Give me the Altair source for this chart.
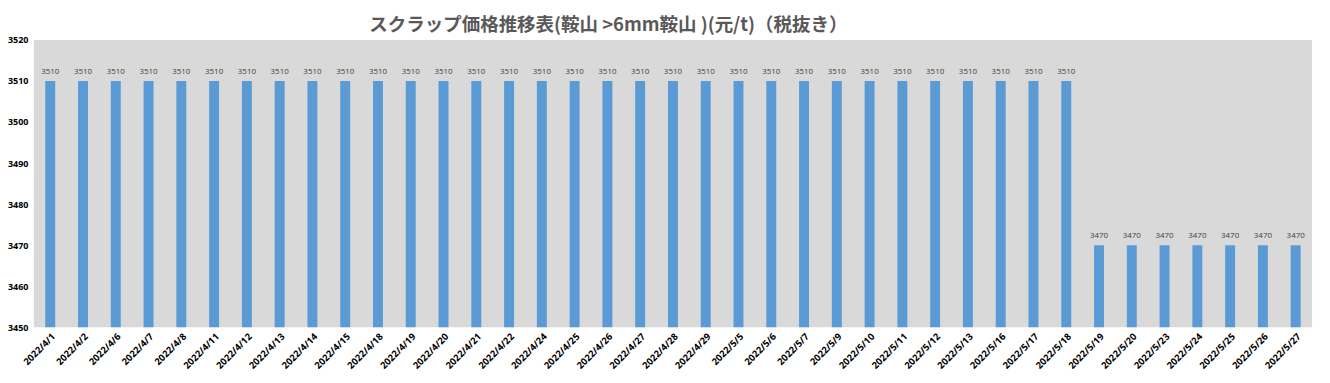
import altair as alt
import pandas as pd

dates = ["2022/4/1", "2022/4/2", "2022/4/6", "2022/4/7", "2022/4/8", "2022/4/11", "2022/4/12",
         "2022/4/13", "2022/4/14", "2022/4/15", "2022/4/18", "2022/4/19", "2022/4/20", "2022/4/21",
         "2022/4/22", "2022/4/24", "2022/4/25", "2022/4/26", "2022/4/27", "2022/4/28", "2022/4/29",
         "2022/5/5", "2022/5/6", "2022/5/7", "2022/5/9", "2022/5/10", "2022/5/11", "2022/5/12",
         "2022/5/13", "2022/5/16", "2022/5/17", "2022/5/18", "2022/5/19", "2022/5/20", "2022/5/23",
         "2022/5/24", "2022/5/25", "2022/5/26", "2022/5/27"]
prices = [3510] * 32 + [3470] * 7
y_ticks = [3450, 3460, 3470, 3480, 3490, 3500, 3510, 3520]

df = pd.DataFrame({"date": dates, "price": prices})

x = alt.X("date:N", sort=dates, title=None,
          axis=alt.Axis(labelAngle=-45, labelFont="Open Sans", labelFontWeight="bold",
                        labelFontSize=9.5, labelColor="#000000", ticks=False, domain=False,
                        labelPadding=4, labelLimit=200, labelOverlap=False))
y = alt.Y("price:Q", title=None, scale=alt.Scale(domain=[3450, 3520], zero=False, nice=False),
          axis=alt.Axis(values=y_ticks, format="d", grid=False, ticks=False, domain=False,
                        labelFont="Open Sans", labelFontWeight="bold", labelFontSize=9,
                        labelColor="#000000", labelPadding=6))

bars = alt.Chart(df).mark_bar(size=10, color="#5B9BD5", clip=True).encode(x=x, y=y)
labels = alt.Chart(df).mark_text(dy=-9, fontSize=8, font="Open Sans", color="#404040").encode(
    x=alt.X("date:N", sort=dates), y="price:Q", text="price:Q")

chart = (bars + labels).properties(
    width=1286, height=289,
    autosize=alt.AutoSizeParams(type="none"),
    padding={"left": 26, "top": 31, "right": 10, "bottom": 55},
    title=alt.TitleParams("スクラップ価格推移表(鞍山 >6mm鞍山 )(元/t)（税抜き）",
                          font="Noto Sans CJK JP", fontSize=18.6, fontWeight="bold",
                          color="#595959", anchor="middle", dx=-65, offset=1),
).configure(background="#FFFFFF").configure_view(fill="#D9D9D9", strokeWidth=0)

chart.save("out.html", embed_options={"renderer": "svg", "actions": False})
